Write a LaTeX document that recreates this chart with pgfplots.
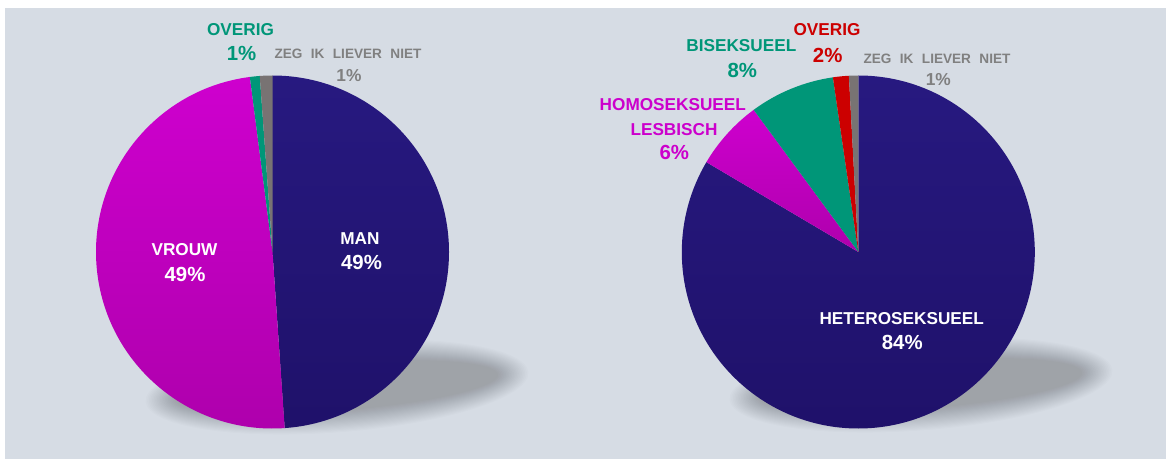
\documentclass[border=0pt]{standalone}
\usepackage{pgfplots}
\pgfplotsset{compat=1.18}
\usepackage{pgfplotstable}
\usepackage{fontspec}
\setmainfont{Liberation Sans}

\definecolor{bg}{RGB}{214,220,228}
\definecolor{navyT}{RGB}{39,25,128}
\definecolor{navyB}{RGB}{31,17,106}
\definecolor{magT}{RGB}{206,0,206}
\definecolor{magB}{RGB}{174,0,172}
\definecolor{tealc}{RGB}{0,150,120}
\definecolor{grayc}{RGB}{120,115,115}
\definecolor{redc}{RGB}{204,0,0}
\definecolor{graytxt}{RGB}{128,128,128}
\definecolor{magtxt}{RGB}{204,0,204}

\tikzset{
  s-navy/.style={top color=navyT,bottom color=navyB},
  s-mag/.style={top color=magT,bottom color=magB},
  s-teal/.style={fill=tealc},
  s-gray/.style={fill=grayc},
  s-red/.style={fill=redc},
  lab/.style={font=\bfseries\fontsize{12.9}{15}\selectfont,inner sep=0pt},
  pct/.style={font=\bfseries\fontsize{15.3}{18}\selectfont,inner sep=0pt},
  glab/.style={font=\bfseries\fontsize{10.2}{12}\selectfont,inner sep=0pt,text=graytxt},
  gpct/.style={font=\bfseries\fontsize{13}{15}\selectfont,inner sep=0pt,text=graytxt},
}

% Gender (left pie), clockwise from 12 o'clock, percent
\pgfplotstableread{
label value style
MAN 48.9 s-navy
VROUW 49.05 s-mag
OVERIG 0.9 s-teal
ZEG 1.15 s-gray
}\leftdata

% Orientation (right pie), clockwise from 12 o'clock, percent
\pgfplotstableread{
label value style
HETEROSEKSUEEL 83.5 s-navy
HOMOSEKSUEEL 6.4 s-mag
BISEKSUEEL 7.8 s-teal
OVERIG 1.45 s-red
ZEG 0.85 s-gray
}\rightdata

\newcommand\drawpie[4]{%
  \pgfplotstablegetrowsof{#1}%
  \pgfmathtruncatemacro\lastrow{\pgfplotsretval-1}%
  \pgfmathsetmacro\rr{#4*0.75}%
  \def\curang{90}%
  \pgfplotsforeachungrouped \i in {0,...,\lastrow}{%
    \pgfplotstablegetelem{\i}{value}\of#1\let\val\pgfplotsretval
    \pgfplotstablegetelem{\i}{style}\of#1\let\sty\pgfplotsretval
    \pgfmathsetmacro\endang{\curang-3.6*\val}%
    \edef\doslice{\noexpand\path[\sty] (axis cs:#2,#3) -- ++(\curang:\rr pt) arc[start angle=\curang,end angle=\endang,radius=\rr pt] -- cycle;}%
    \doslice
    \let\curang\endang
  }%
}

\newcommand\gsp{\hspace{6.3pt}}

\begin{document}
\begin{tikzpicture}
\begin{axis}[
  width=874.5pt, height=344.25pt, scale only axis,
  xmin=0, xmax=1166, ymin=0, ymax=459, y dir=reverse,
  hide axis, clip=false,
]
\path[fill=white] (axis cs:0,0) rectangle (axis cs:1166,459);
\fill[bg] (axis cs:5,8) rectangle (axis cs:1175,470);
\coordinate (BL) at (axis cs:0,459);
\coordinate (TR) at (axis cs:1166,0);

% shadows
\pgfplotsinvokeforeach{0,...,19}{
  \fill[black,opacity=0.013,rotate around={4.4:(axis cs:337,387)}] (axis cs:337,387) ellipse[x radius={144pt-1.2pt*#1}, y radius={34pt-0.85pt*#1}];
  \fill[black,opacity=0.013,rotate around={4.4:(axis cs:921,385)}] (axis cs:921,385) ellipse[x radius={144pt-1.2pt*#1}, y radius={34pt-0.85pt*#1}];
}

\drawpie{\leftdata}{272.5}{252}{176.5}
\drawpie{\rightdata}{858.3}{252}{176.5}

% left labels
\node[lab,text=tealc] at (axis cs:240.5,30) {OVERIG};
\node[pct,text=tealc] at (axis cs:241.5,53.5) {1\%};
\node[glab] at (axis cs:348,53.5) {ZEG\gsp IK\gsp LIEVER\gsp NIET};
\node[gpct] at (axis cs:349,75.5) {1\%};
\node[lab,text=white] at (axis cs:184.5,250) {VROUW};
\node[pct,text=white] at (axis cs:185,274) {49\%};
\node[lab,text=white] at (axis cs:360,238.3) {MAN};
\node[pct,text=white] at (axis cs:361.5,262.3) {49\%};

% right labels
\node[lab,text=redc] at (axis cs:827,30) {OVERIG};
\node[pct,text=redc] at (axis cs:827.7,55) {2\%};
\node[lab,text=tealc] at (axis cs:741.3,46) {BISEKSUEEL};
\node[pct,text=tealc] at (axis cs:742.3,70) {8\%};
\node[glab] at (axis cs:937,59.3) {ZEG\gsp IK\gsp LIEVER\gsp NIET};
\node[gpct] at (axis cs:938.3,80) {1\%};
\node[lab,text=magtxt] at (axis cs:672.8,105) {HOMOSEKSUEEL};
\node[lab,text=magtxt] at (axis cs:674,129.3) {LESBISCH};
\node[pct,text=magtxt] at (axis cs:674.3,152.7) {6\%};
\node[lab,text=white] at (axis cs:901.7,318.3) {HETEROSEKSUEEL};
\node[pct,text=white] at (axis cs:902.3,342.3) {84\%};
\end{axis}
\pgfresetboundingbox
\path[use as bounding box] (BL) rectangle (TR);
\end{tikzpicture}
\end{document}
